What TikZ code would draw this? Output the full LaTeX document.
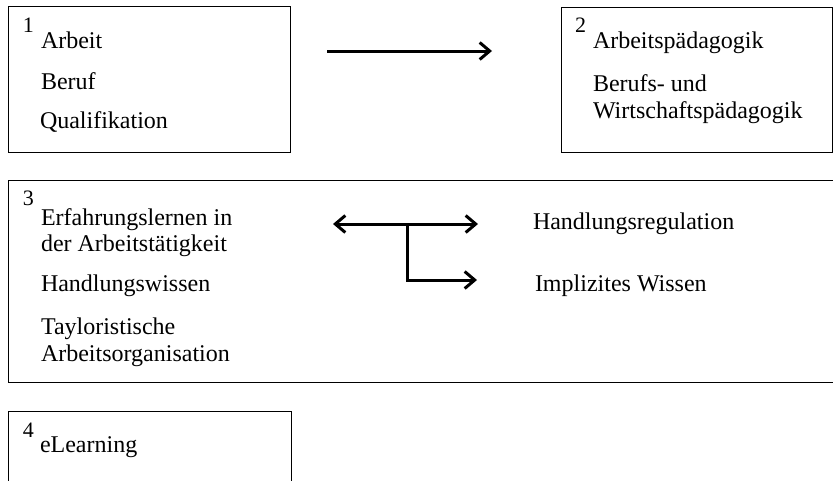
\documentclass[tikz,border=0pt]{standalone}
\usepackage{fontspec}
\setmainfont{Liberation Serif}
\usetikzlibrary{arrows.meta}
\tikzset{mytip/.tip={Straight Barb[length=10pt,width=17pt,line width=3pt]}}
\begin{document}
\begin{tikzpicture}[x=1pt,y=-1pt,
  frame/.style={draw=black,line width=1pt},
  txt/.style={anchor=base west,inner sep=0pt,outer sep=0pt,font=\fontsize{24}{28}\selectfont},
  num/.style={anchor=base west,inner sep=0pt,outer sep=0pt,font=\fontsize{22}{26}\selectfont},
  conn/.style={line width=3pt,-{mytip}},
  connb/.style={line width=3pt,{mytip}-{mytip}}]
\useasboundingbox (0,0) rectangle (833,480);
\clip (0,0) rectangle (833,480);
% boxes
\draw[frame] (8,6) rectangle (290,152);
\draw[frame] (561,7) rectangle (832,152);
\draw[frame] (8,180) rectangle (845,382);
\draw[frame] (8,411) rectangle (291,495);
% box 1
\node[num] (n1) at (23,32) {1};
\node[txt] (t11) at (41,48) {Arbeit};
\node[txt] (t12) at (41,89) {Beruf};
\node[txt] (t13) at (40,128) {Qualifikation};
% box 2
\node[num] (n2) at (575,32) {2};
\node[txt] (t21) at (593,48) {Arbeitspädagogik};
\node[txt] (t22) at (593,91) {Berufs- und};
\node[txt] (t23) at (593,118) {Wirtschaftspädagogik};
% box 3
\node[num] (n3) at (23,205) {3};
\node[txt] (t31) at (41,225) {Erfahrungslernen in};
\node[txt] (t32) at (41,251) {der Arbeitstätigkeit};
\node[txt] (t33) at (41,291) {Handlungswissen};
\node[txt] (t34) at (41,334) {Tayloristische};
\node[txt] (t35) at (41,361) {Arbeitsorganisation};
\node[txt] (t36) at (533,229) {Handlungsregulation};
\node[txt] (t37) at (535,291) {Implizites Wissen};
% box 4
\node[num] (n4) at (23,437) {4};
\node[txt] (t41) at (40,452) {eLearning};
% connectors
\coordinate (a1) at (327,51);
\coordinate (a2) at (492,51);
\draw[conn] (a1) -- (a2);
\coordinate (b1) at (333,224);
\coordinate (b2) at (478,224);
\coordinate (bj) at (407,224);
\coordinate (b3) at (477,280);
\draw[connb] (b1) -- (b2);
\draw[conn] (bj) |- (b3);
\end{tikzpicture}
\end{document}
